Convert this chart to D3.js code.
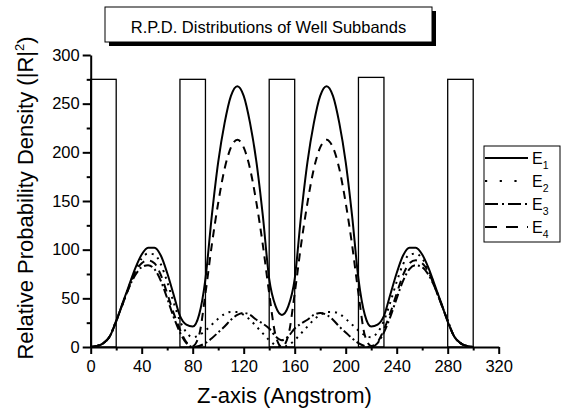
<!DOCTYPE html>
<html>
<head>
<meta charset="utf-8">
<script src="https://cdn.jsdelivr.net/npm/d3@7"></script>
<style>
  body { margin: 0; background: #fff; }
  svg { display: block; font-family: "Liberation Sans", Arial, sans-serif; }
</style>
</head>
<body>
<svg id="chart"></svg>
<script>
// posiciones z (Angstrom) donde se leyeron las curvas
const zPos = [0, 5, 10, 15, 20, 25, 30, 35, 40, 45, 50, 55, 60, 65, 70, 75, 80, 85, 90, 95,
  100, 105, 110, 115, 120, 125, 130, 135, 140, 145, 150, 155, 160, 165, 170, 175, 180, 185, 190, 195,
  200, 205, 210, 215, 220, 225, 230, 235, 240, 245, 250, 255, 260, 265, 270, 275, 280, 285, 290, 295, 300];

// densidad de probabilidad relativa de cada subbanda
const e1 = [0, 1, 4, 11, 26, 45, 63, 81, 95, 102, 102, 94, 76, 54, 32, 23, 21, 33, 70, 135,
  190, 230, 258, 268, 258, 230, 190, 135, 70, 42, 33, 42, 70, 135, 190, 230, 258, 268, 258, 230,
  190, 135, 70, 33, 21, 23, 32, 54, 76, 94, 102, 102, 95, 81, 63, 45, 26, 11, 4, 1, 0];
const e2 = [0, 1, 4, 11, 27, 44, 62, 79, 91, 96, 95, 85, 67, 46, 27, 15, 10, 12, 17, 23,
  29, 34, 36, 36, 33, 28, 21, 14, 7, 2, 0, 2, 7, 14, 21, 28, 33, 36, 36, 34,
  29, 23, 17, 12, 10, 15, 27, 46, 67, 85, 95, 96, 91, 79, 62, 44, 27, 11, 4, 1, 0];
const e3 = [0, 1, 4, 11, 27, 44, 61, 74, 82, 84, 80, 68, 50, 31, 15, 4, 0, 1, 4, 9,
  15, 21, 28, 33, 35, 33, 28, 24, 19, 11, 7, 11, 19, 24, 28, 33, 35, 33, 28, 21,
  15, 9, 4, 1, 0, 4, 15, 31, 50, 68, 80, 84, 82, 74, 61, 44, 27, 11, 4, 1, 0];
const e4 = [0, 1, 4, 11, 27, 44, 61, 77, 86, 89, 86, 74, 55, 35, 18, 5, 1, 12, 55, 105,
  148, 183, 205, 213, 205, 183, 148, 105, 55, 12, 0, 12, 55, 105, 148, 183, 205, 213, 205, 183,
  148, 105, 55, 12, 1, 5, 18, 35, 55, 74, 86, 89, 86, 77, 61, 44, 27, 11, 4, 1, 0];

// barreras del pozo
const barrierStart = [0, 70, 140, 210, 280];
const barrierEnd = [20, 90, 160, 230, 300];
const barrierTop = [275, 275, 275, 277, 275];

const seriesNames = ["1", "2", "3", "4"];
const xTicks = [0, 40, 80, 120, 160, 200, 240, 280, 320];
const xMinor = [20, 60, 100, 140, 180, 220, 260, 300];
const yTicks = [0, 50, 100, 150, 200, 250, 300];
const yMinor = [25, 75, 125, 175, 225, 275];

const width = 567;
const height = 411;

const svg = d3.select("#chart")
  .attr("width", width)
  .attr("height", height);

const xScale = d3.scaleLinear().domain([0, 320]).range([90.7, 498.7]);
const yScale = d3.scaleLinear().domain([0, 300]).range([347, 55]);

// barreras
svg.append("g").selectAll("rect")
  .data(barrierStart)
  .enter()
  .append("rect")
  .attr("x", d => xScale(d))
  .attr("y", (d, i) => yScale(barrierTop[i]))
  .attr("width", (d, i) => xScale(barrierEnd[i]) - xScale(d))
  .attr("height", (d, i) => yScale(0) - yScale(barrierTop[i]))
  .attr("fill", "none")
  .attr("stroke", "#000")
  .attr("stroke-width", 1.3);

// curvas
const series = [
  { vals: e1, dash: null, legendDash: null },
  { vals: e2, dash: "2,5", legendDash: "2.2,12.5" },
  { vals: e3, dash: "9,3,2,3", legendDash: "13,4,2,4" },
  { vals: e4, dash: "8,6", legendDash: "12,9" }
];

const line = d3.line()
  .x((d, i) => xScale(zPos[i]))
  .y(d => yScale(d))
  .curve(d3.curveMonotoneX);

svg.append("g").selectAll("path")
  .data(series)
  .enter()
  .append("path")
  .attr("d", d => line(d.vals))
  .attr("fill", "none")
  .attr("stroke", "#000")
  .attr("stroke-width", 2)
  .attr("stroke-dasharray", d => d.dash);

// ejes
const fontSize = "16.5px";

const xAxis = svg.append("g")
  .attr("transform", `translate(0, ${yScale(0)})`)
  .call(d3.axisBottom(xScale).tickValues(xTicks).tickSize(7).tickSizeOuter(0).tickPadding(6));
svg.append("g")
  .attr("transform", `translate(0, ${yScale(0)})`)
  .call(d3.axisBottom(xScale).tickValues(xMinor).tickSize(3.5).tickFormat(""))
  .select(".domain").remove();

const yAxis = svg.append("g")
  .attr("transform", `translate(${xScale(0)}, 0)`)
  .call(d3.axisLeft(yScale).tickValues(yTicks).tickSize(8).tickSizeOuter(0).tickPadding(3));
svg.append("g")
  .attr("transform", `translate(${xScale(0)}, 0)`)
  .call(d3.axisLeft(yScale).tickValues(yMinor).tickSize(4).tickFormat(""))
  .select(".domain").remove();

svg.selectAll(".domain, .tick line")
  .attr("stroke", "#000")
  .attr("stroke-width", 2);
svg.selectAll(".tick text")
  .attr("font-size", fontSize)
  .attr("font-family", "Liberation Sans, Arial, sans-serif")
  .attr("fill", "#000");

// titulos de ejes
svg.append("text")
  .attr("x", 284.5)
  .attr("y", 403)
  .attr("text-anchor", "middle")
  .attr("font-size", "22px")
  .text("Z-axis (Angstrom)");

const yTitle = svg.append("text")
  .attr("transform", "translate(33, 198) rotate(-90)")
  .attr("text-anchor", "middle")
  .attr("font-size", "22px");
yTitle.append("tspan").text("Relative Probability Density (|R|");
yTitle.append("tspan").attr("font-size", "13px").attr("dy", -9).text("2");
yTitle.append("tspan").attr("dy", 9).text(")");

// titulo con sombra
svg.append("rect")
  .attr("x", 109).attr("y", 11)
  .attr("width", 327).attr("height", 35)
  .attr("fill", "#000");
svg.append("rect")
  .attr("x", 105).attr("y", 7)
  .attr("width", 327).attr("height", 35)
  .attr("fill", "#fff")
  .attr("stroke", "#000")
  .attr("stroke-width", 1);
svg.append("text")
  .attr("x", 268.5)
  .attr("y", 32.5)
  .attr("text-anchor", "middle")
  .attr("font-size", fontSize)
  .text("R.P.D. Distributions of Well Subbands");

// leyenda
const legend = svg.append("g");
legend.append("rect")
  .attr("x", 484).attr("y", 146)
  .attr("width", 76).attr("height", 96)
  .attr("fill", "#fff")
  .attr("stroke", "#000")
  .attr("stroke-width", 1);

const items = legend.selectAll("g.item")
  .data(series)
  .enter()
  .append("g")
  .attr("class", "item")
  .attr("transform", (d, i) => `translate(0, ${158 + i * 23})`);

items.append("line")
  .attr("x1", 485).attr("x2", 528)
  .attr("stroke", "#000")
  .attr("stroke-width", 2)
  .attr("stroke-dasharray", d => d.legendDash);

const lbl = items.append("text")
  .attr("x", 532)
  .attr("y", 6)
  .attr("font-size", "16px");
lbl.append("tspan").text("E");
lbl.append("tspan")
  .attr("font-size", "10.5px")
  .attr("dy", 5)
  .text((d, i) => seriesNames[i]);
</script>
</body>
</html>
